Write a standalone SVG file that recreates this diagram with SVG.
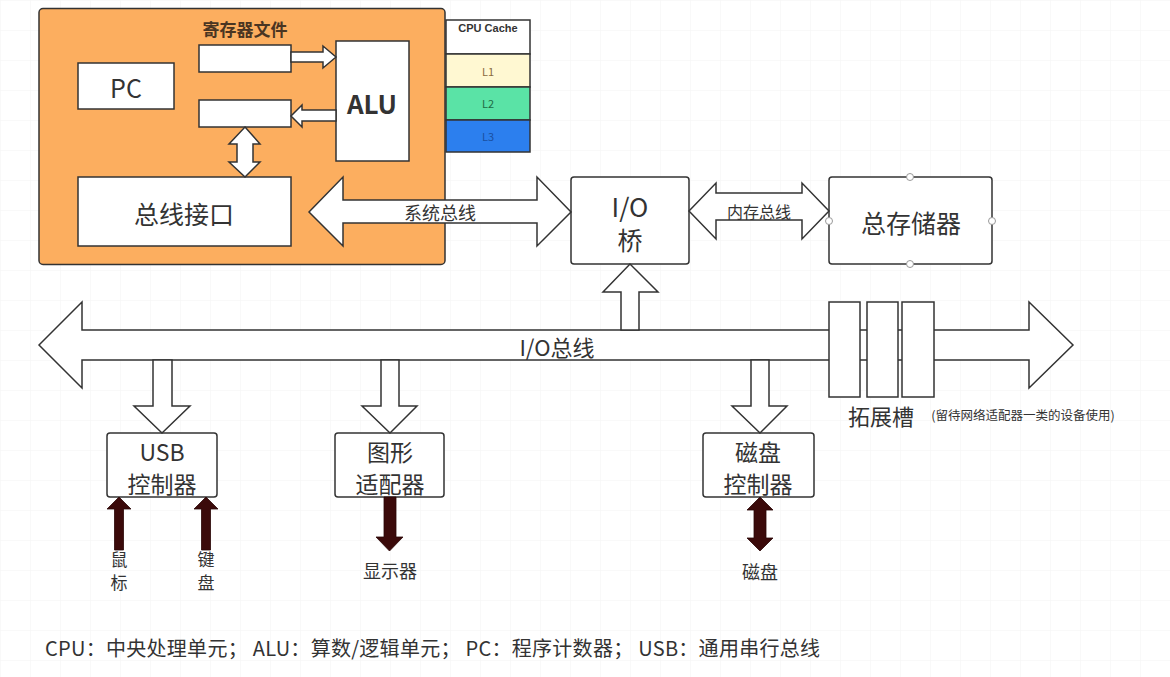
<svg xmlns="http://www.w3.org/2000/svg" width="1170" height="677" viewBox="0 0 1170 677">
<defs>
<pattern id="grid" width="30" height="30" patternUnits="userSpaceOnUse">
<path d="M30 0H0V30" fill="none" stroke="#f3f3f3" stroke-width="1"/>
</pattern>
</defs>
<style>
.box{fill:#fff;stroke:#333;stroke-width:1.5}
.arr{fill:#fff;stroke:#333;stroke-width:1.5;stroke-linejoin:miter}
.dark{fill:#3b0a0a;stroke:#2a0606;stroke-width:0.8}
.t{font-family:"Noto Sans CJK SC","Noto Sans",sans-serif;fill:#333;text-anchor:middle;dominant-baseline:central}
.h{fill:#fff;stroke:#999;stroke-width:1}
</style>
<rect width="1170" height="677" fill="#fff"/>
<rect width="1170" height="677" fill="url(#grid)"/>

<g id="cpu">
<rect x="39" y="8.5" width="406" height="256" rx="4" fill="#fcae5f" stroke="#333" stroke-width="1.5"/>
<text class="t" x="245" y="28" font-size="17" font-weight="bold" style="fill:#4a3522">寄存器文件</text>
</g>
<g id="pc">
<rect class="box" x="78" y="63" width="96" height="46"/>
<text class="t" x="126" y="87" font-size="25">PC</text>
</g>
<g id="reg1"><rect class="box" x="199" y="45" width="92" height="27"/></g>
<g id="reg2"><rect class="box" x="199" y="100" width="92" height="27"/></g>
<g id="alu">
<rect class="box" x="336" y="41" width="73" height="120"/>
<text class="t" x="372" y="102" font-size="26" font-weight="bold">ALU</text>
</g>
<g id="bus-interface">
<rect class="box" x="78" y="177" width="213" height="69"/>
<text class="t" x="184" y="213" font-size="25">总线接口</text>
</g>
<g id="cpu-cache">
<rect x="446" y="20" width="84" height="34" fill="#fff" stroke="#333" stroke-width="1.5"/>
<text class="t" x="488" y="28" font-size="11" font-weight="bold" style="font-family:'Liberation Sans',sans-serif">CPU Cache</text>
<rect x="446" y="54" width="84" height="33" fill="#fff8d2" stroke="#333" stroke-width="1.5"/>
<text class="t" x="488" y="71" font-size="11" style="fill:#8a6a40">L1</text>
<rect x="446" y="87" width="84" height="33" fill="#5ae3a6" stroke="#333" stroke-width="1.5"/>
<text class="t" x="488" y="103" font-size="11" style="fill:#1f6b45">L2</text>
<rect x="446" y="120" width="84" height="32" fill="#2c7fee" stroke="#333" stroke-width="1.5"/>
<text class="t" x="488" y="136" font-size="11" style="fill:#1a4fa0">L3</text>
</g>
<g id="io-bridge">
<rect class="box" x="571" y="177" width="118" height="87" rx="3"/>
<text class="t" x="630" y="205" font-size="26">I/O</text>
<text class="t" x="630" y="239" font-size="25">桥</text>
</g>
<g id="main-memory">
<rect class="box" x="829" y="177" width="163" height="87" rx="3"/>
<text class="t" x="911" y="222" font-size="25">总存储器</text>
<circle class="h" cx="910" cy="177" r="3.5"/>
<circle class="h" cx="910" cy="264" r="3.5"/>
<circle class="h" cx="829" cy="221" r="3.5"/>
<circle class="h" cx="992" cy="221" r="3.5"/>
</g>
<g id="usb">
<rect class="box" x="107" y="433" width="110" height="64" rx="3"/>
<text class="t" x="162" y="451" font-size="23">USB</text>
<text class="t" x="162" y="483" font-size="23">控制器</text>
</g>
<g id="graphics">
<rect class="box" x="335" y="433" width="109" height="64" rx="3"/>
<text class="t" x="390" y="451" font-size="23">图形</text>
<text class="t" x="390" y="483" font-size="23">适配器</text>
</g>
<g id="disk-ctrl">
<rect class="box" x="703" y="433" width="111" height="64" rx="3"/>
<text class="t" x="758" y="451" font-size="23">磁盘</text>
<text class="t" x="758" y="483" font-size="23">控制器</text>
</g>

<g id="connectors">
<polygon class="arr" points="291,52 323,52 323,46 336,57 323,68 323,62 291,62"/>
<polygon class="arr" points="336,110 302,110 302,105 291,116 302,127 302,121 336,121"/>
<polygon class="arr" points="245,127 260,144 253,144 253,162 260,162 245,177 229,162 237,162 237,144 229,144"/>
<polygon class="arr" points="309,212 343,177 343,200 537,200 537,177 571,212 537,246 537,223 343,223 343,246"/>
<text class="t" x="440" y="212" font-size="18">系统总线</text>
<polygon class="arr" points="689,211 716,183 716,193 802,193 802,183 829,211 802,239 802,220 716,220 716,239"/>
<text class="t" x="759" y="211" font-size="16">内存总线</text>
<polygon class="arr" points="39,345 82,302 82,330 1029,330 1029,302 1073,345 1029,388 1029,360 82,360 82,388"/>
<text class="t" x="557" y="346" font-size="22">I/O总线</text>
<polygon class="arr" points="621,330 621,292 603,292 630,264 658,292 639,292 639,330"/>
<polygon class="arr" points="153,360 172,360 172,406 190,406 162,433 134,406 153,406"/>
<polygon class="arr" points="381,360 399,360 399,406 417,406 390,433 362,406 381,406"/>
<polygon class="arr" points="751,360 769,360 769,406 787,406 760,433 732,406 751,406"/>
<polygon class="dark" points="119,497 131,509 123.5,509 123.5,550 114.5,550 114.5,509 107,509"/>
<polygon class="dark" points="206,497 218,509 210.5,509 210.5,550 201.5,550 201.5,509 194,509"/>
<polygon class="dark" points="384,497 396,497 396,537 403,537 389.5,551 376,537 384,537"/>
<polygon class="dark" points="760,497 773,510 766,510 766,538 773,538 760,551 747,538 754,538 754,510 747,510"/>
</g>

<g id="expansion-slots">
<rect class="box" x="829" y="302" width="31" height="95"/>
<rect class="box" x="867" y="302" width="31" height="95"/>
<rect class="box" x="902" y="302" width="32" height="95"/>
<text class="t" x="881" y="415" font-size="22">拓展槽</text>
<text class="t" x="1023" y="414" font-size="12.5">(留待网络适配器一类的设备使用)</text>
</g>

<g id="labels">
<text class="t" x="119" y="558" font-size="17">鼠</text>
<text class="t" x="119" y="581" font-size="17">标</text>
<text class="t" x="206" y="558" font-size="17">键</text>
<text class="t" x="206" y="581" font-size="17">盘</text>
<text class="t" x="390" y="570" font-size="18">显示器</text>
<text class="t" x="760" y="571" font-size="18">磁盘</text>
<text class="t" x="45" y="647" font-size="20" textLength="775" lengthAdjust="spacing" style="text-anchor:start">CPU：中央处理单元； ALU：算数/逻辑单元； PC：程序计数器； USB：通用串行总线</text>
</g>
</svg>
